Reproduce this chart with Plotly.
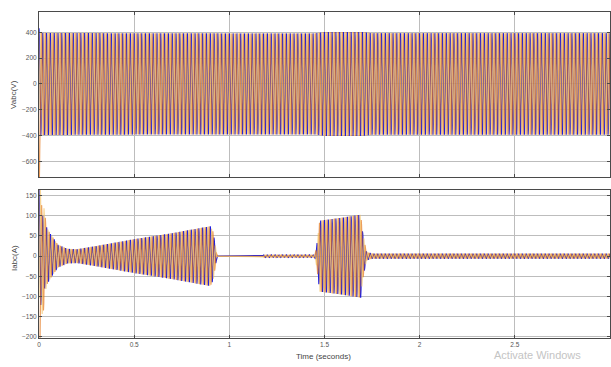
import numpy as np
import plotly.graph_objects as go

# ---- data ----
FREQ = 50.0                      # Hz, three-phase carrier
T_END = 3.0
PHASE_NAMES = ["c", "b", "a"]
PHASE_COLORS = ["#1e1ee0", "#e4761a", "#f4c060"]   # blue, orange, yellow (draw order)
PHASE_OPACITY = [1.0, 0.7, 0.65]
PHASE_SHIFT = {"a": -2.0944, "b": 2.0944, "c": 0.0}  # radians

# voltage envelope (V)
V_T = [0.0, 0.01, 0.5, 1.0, 1.45, 1.5, 1.7, 1.75, 3.0]
V_AMP = [400, 396, 393, 392, 392, 403, 403, 394, 394]
# start-up boost per phase (multiplier)
V_BOOST_T = [0.0, 0.004, 0.008]
V_BOOST = {"a": [1.0, 1.0, 1.0], "b": [3.0, 1.2, 1.0], "c": [1.08, 1.03, 1.0]}

# current envelope (A)
I_T = [0.0, 0.01, 0.03, 0.06, 0.1, 0.15, 0.2, 0.3, 0.5, 0.7, 0.85, 0.9, 0.915, 0.935,
       1.17, 1.18, 1.45, 1.46, 1.475, 1.6, 1.69, 1.70, 1.72, 1.75, 3.0]
I_AMP = [175, 120, 80, 55, 28, 18, 17, 25, 42, 57, 70, 74, 60, 0,
         0, 3, 3, 30, 88, 96, 103, 60, 10, 6, 6]
I_BOOST_T = [0.0, 0.003, 0.01, 0.025, 0.04]
I_BOOST = {"a": [1.2, 1.2, 1.3, 1.4, 1.0], "b": [2.4, 2.4, 1.0, 1.5, 1.0],
           "c": [1.0, 1.0, 1.0, 1.0, 1.0]}

V_TICKS = [400, 200, 0, -200, -400, -600]
I_TICKS = [150, 100, 50, 0, -50, -100, -150, -200]
X_TICKS = [0, 0.5, 1, 1.5, 2, 2.5, 3]
X_TICKTEXT = ["0", "0.5", "1", "1.5", "2", "2.5", "3"]

t = np.linspace(0, T_END, 7201)

fig = go.Figure()
for name, col, op in zip(PHASE_NAMES, PHASE_COLORS, PHASE_OPACITY):
    sh = PHASE_SHIFT[name]
    env_v = np.interp(t, V_T, V_AMP) * np.interp(t, V_BOOST_T, V_BOOST[name])
    env_i = np.interp(t, I_T, I_AMP) * np.interp(t, I_BOOST_T, I_BOOST[name])
    carrier = np.cos(2 * np.pi * FREQ * t + sh)
    fig.add_trace(go.Scatter(x=t, y=env_v * carrier, mode="lines", opacity=op,
                             line=dict(color=col, width=1.2), xaxis="x", yaxis="y",
                             showlegend=False, hoverinfo="skip"))
    fig.add_trace(go.Scatter(x=t, y=env_i * carrier, mode="lines", opacity=op,
                             line=dict(color=col, width=1.2), xaxis="x2", yaxis="y2",
                             showlegend=False, hoverinfo="skip"))

H = 367.0
W = 611.0
ML, MR = 39, 1
def dom(top_px, bot_px):
    return [1 - bot_px / H, 1 - top_px / H]

axcommon = dict(showgrid=True, gridcolor="#bdbdbd", gridwidth=1, zeroline=False,
                showline=True, linecolor="#4a4a4a", linewidth=1, mirror="ticks",
                ticks="inside", ticklen=3, tickcolor="#4a4a4a", automargin=False,
                tickfont=dict(family="Liberation Sans, Arial", size=6.5, color="#555555"))

def px(xp, yp):
    return (xp - ML) / (W - ML - MR), 1 - yp / H

annots = []
for text, xp, yp, size, color, ang in [
    ("Vabc(V)", 14, 95, 8, "#444444", -90),
    ("Iabc(A)", 14, 258, 8, "#444444", -90),
    ("Time (seconds)", 323, 356, 8, "#444444", 0),
    ("Activate Windows", 537, 355, 11, "#c4c4c4", 0),
]:
    xx, yy = px(xp, yp)
    annots.append(dict(text=text, x=xx, y=yy, xref="paper", yref="paper", showarrow=False,
                       textangle=ang, xanchor="center", yanchor="middle",
                       font=dict(family="Liberation Sans, Arial", size=size, color=color)))

fig.update_layout(
    width=611, height=367,
    margin=dict(l=ML, r=MR, t=0, b=0),
    paper_bgcolor="white", plot_bgcolor="white",
    xaxis=dict(domain=[0, 1], range=[0, 3], tickvals=X_TICKS, showticklabels=False,
               anchor="y", **axcommon),
    yaxis=dict(domain=dom(12, 177), range=[-722, 558], tickvals=V_TICKS,
               anchor="x", **axcommon),
    xaxis2=dict(domain=[0, 1], range=[0, 3], tickvals=X_TICKS, ticktext=X_TICKTEXT,
                anchor="y2", **axcommon),
    yaxis2=dict(domain=dom(190, 338), range=[-203, 164], tickvals=I_TICKS,
                anchor="x2", **axcommon),
    annotations=annots,
)

fig.write_html("out.html", config={"displayModeBar": False},
               post_script="document.body.style.margin='0';document.body.style.overflow='hidden';")
